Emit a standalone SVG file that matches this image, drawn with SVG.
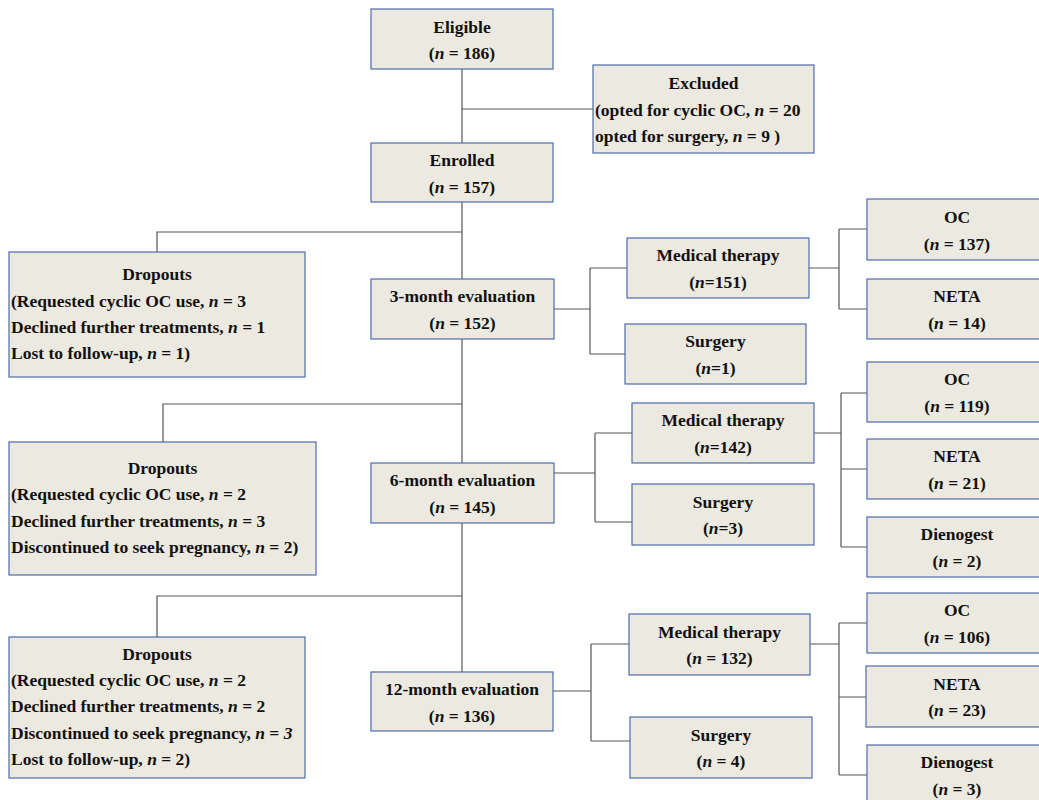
<svg xmlns="http://www.w3.org/2000/svg" width="1039" height="800" viewBox="0 0 1039 800">
<style>
.box{fill:#ECE9E0;stroke:#4F6BAA;stroke-width:1.2}
.t{font-family:"Liberation Serif","Times New Roman",serif;font-weight:bold;font-size:17.5px;fill:#111}
.c{text-anchor:middle}
.ln{fill:none;stroke:#555;stroke-width:1.2}
</style>
<rect width="1039" height="800" fill="#fff"/>
<g id="connectors">
<path class="ln" d="M462,69V672"/>
<path class="ln" d="M462,109H593"/>
<path class="ln" d="M462,232H157V252"/>
<path class="ln" d="M462,404H163V442"/>
<path class="ln" d="M462,596H157V637"/>
<path class="ln" d="M554,309H590M590,268V354M590,268H627M590,354H625"/>
<path class="ln" d="M809,268H839M839,229V309M839,229H867M839,309H867"/>
<path class="ln" d="M554,473H595M595,433V522M595,433H632M595,522H632"/>
<path class="ln" d="M814,433H841M841,393V547M841,393H867M841,469H867M841,547H867"/>
<path class="ln" d="M553,691H591M591,644V741M591,644H629M591,741H630"/>
<path class="ln" d="M810,644H839M839,623V775M839,623H867M839,697H866M839,775H867"/>
</g>
<g id="eligible"><rect class="box" x="371" y="9" width="182" height="60"/><text class="t c" x="462" y="33">Eligible</text><text class="t c" x="462" y="59">(<tspan font-style="italic">n</tspan> = 186)</text></g>
<g id="excluded"><rect class="box" x="593" y="65" width="221" height="88"/><text class="t c" x="703.5" y="89">Excluded</text><text class="t" x="595" y="116">(opted for cyclic OC, <tspan font-style="italic">n</tspan> = 20</text><text class="t" x="595" y="142">opted for surgery, <tspan font-style="italic">n</tspan> = 9 )</text></g>
<g id="enrolled"><rect class="box" x="371" y="143" width="182" height="59"/><text class="t c" x="462" y="166">Enrolled</text><text class="t c" x="462" y="193">(<tspan font-style="italic">n</tspan> = 157)</text></g>
<g id="dropouts1"><rect class="box" x="9" y="252" width="296" height="125"/><text class="t c" x="157" y="280">Dropouts</text><text class="t" x="11" y="307">(Requested cyclic OC use, <tspan font-style="italic">n</tspan> = 3</text><text class="t" x="11" y="333">Declined further treatments, <tspan font-style="italic">n</tspan> = 1</text><text class="t" x="11" y="359">Lost to follow-up, <tspan font-style="italic">n</tspan> = 1)</text></g>
<g id="m3"><rect class="box" x="371" y="279" width="183" height="60"/><text class="t c" x="462.5" y="302">3-month evaluation</text><text class="t c" x="462.5" y="329">(<tspan font-style="italic">n</tspan> = 152)</text></g>
<g id="med3"><rect class="box" x="627" y="238" width="182" height="60"/><text class="t c" x="718" y="261">Medical therapy</text><text class="t c" x="718" y="288">(<tspan font-style="italic">n</tspan>=151)</text></g>
<g id="surg3"><rect class="box" x="625" y="324" width="181" height="60"/><text class="t c" x="715.5" y="347">Surgery</text><text class="t c" x="715.5" y="374">(<tspan font-style="italic">n</tspan>=1)</text></g>
<g id="oc3"><rect class="box" x="867" y="199" width="180" height="61"/><text class="t c" x="957" y="223">OC</text><text class="t c" x="957" y="250">(<tspan font-style="italic">n</tspan> = 137)</text></g>
<g id="neta3"><rect class="box" x="867" y="279" width="180" height="60"/><text class="t c" x="957" y="302">NETA</text><text class="t c" x="957" y="329">(<tspan font-style="italic">n</tspan> = 14)</text></g>
<g id="dropouts2"><rect class="box" x="9" y="442" width="307" height="133"/><text class="t c" x="162.5" y="474">Dropouts</text><text class="t" x="11" y="500">(Requested cyclic OC use, <tspan font-style="italic">n</tspan> = 2</text><text class="t" x="11" y="527">Declined further treatments, <tspan font-style="italic">n</tspan> = 3</text><text class="t" x="11" y="553">Discontinued to seek pregnancy, <tspan font-style="italic">n</tspan> = 2)</text></g>
<g id="m6"><rect class="box" x="371" y="463" width="183" height="60"/><text class="t c" x="462.5" y="486">6-month evaluation</text><text class="t c" x="462.5" y="513">(<tspan font-style="italic">n</tspan> = 145)</text></g>
<g id="med6"><rect class="box" x="632" y="403" width="182" height="60"/><text class="t c" x="723" y="426">Medical therapy</text><text class="t c" x="723" y="453">(<tspan font-style="italic">n</tspan>=142)</text></g>
<g id="surg6"><rect class="box" x="632" y="484" width="182" height="61"/><text class="t c" x="723" y="508">Surgery</text><text class="t c" x="723" y="534">(<tspan font-style="italic">n</tspan>=3)</text></g>
<g id="oc6"><rect class="box" x="867" y="362" width="180" height="60"/><text class="t c" x="957" y="385">OC</text><text class="t c" x="957" y="412">(<tspan font-style="italic">n</tspan> = 119)</text></g>
<g id="neta6"><rect class="box" x="867" y="439" width="180" height="60"/><text class="t c" x="957" y="462">NETA</text><text class="t c" x="957" y="489">(<tspan font-style="italic">n</tspan> = 21)</text></g>
<g id="dien6"><rect class="box" x="867" y="517" width="180" height="60"/><text class="t c" x="957" y="540">Dienogest</text><text class="t c" x="957" y="567">(<tspan font-style="italic">n</tspan> = 2)</text></g>
<g id="dropouts3"><rect class="box" x="9" y="637" width="296" height="141"/><text class="t c" x="157" y="660">Dropouts</text><text class="t" x="11" y="686">(Requested cyclic OC use, <tspan font-style="italic">n</tspan> = 2</text><text class="t" x="11" y="712">Declined further treatments, <tspan font-style="italic">n</tspan> = 2</text><text class="t" x="11" y="739">Discontinued to seek pregnancy, <tspan font-style="italic">n</tspan> = <tspan font-style="italic">3</tspan></text><text class="t" x="11" y="765">Lost to follow-up, <tspan font-style="italic">n</tspan> = 2)</text></g>
<g id="m12"><rect class="box" x="371" y="672" width="182" height="59"/><text class="t c" x="462" y="695">12-month evaluation</text><text class="t c" x="462" y="722">(<tspan font-style="italic">n</tspan> = 136)</text></g>
<g id="med12"><rect class="box" x="629" y="614" width="181" height="61"/><text class="t c" x="719.5" y="638">Medical therapy</text><text class="t c" x="719.5" y="664">(<tspan font-style="italic">n</tspan> = 132)</text></g>
<g id="surg12"><rect class="box" x="630" y="717" width="182" height="61"/><text class="t c" x="721" y="741">Surgery</text><text class="t c" x="721" y="767">(<tspan font-style="italic">n</tspan> = 4)</text></g>
<g id="oc12"><rect class="box" x="867" y="593" width="180" height="60"/><text class="t c" x="957" y="616">OC</text><text class="t c" x="957" y="643">(<tspan font-style="italic">n</tspan> = 106)</text></g>
<g id="neta12"><rect class="box" x="866" y="666" width="181" height="61"/><text class="t c" x="957" y="690">NETA</text><text class="t c" x="957" y="716">(<tspan font-style="italic">n</tspan> = 23)</text></g>
<g id="dien12"><rect class="box" x="867" y="745" width="180" height="60"/><text class="t c" x="957" y="768">Dienogest</text><text class="t c" x="957" y="795">(<tspan font-style="italic">n</tspan> = 3)</text></g>
</svg>
